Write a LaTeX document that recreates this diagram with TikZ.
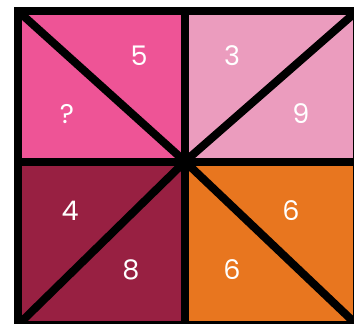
\documentclass[tikz,border=0pt]{standalone}
\usepackage{fontspec}
\setmainfont{Poppins}
\usepackage{xcolor}
\usetikzlibrary{positioning}

\definecolor{pinkhot}{RGB}{238,84,150}
\definecolor{pinklight}{RGB}{235,156,190}
\definecolor{maroon}{RGB}{152,32,66}
\definecolor{orangecell}{RGB}{232,118,31}

\begin{document}
\begin{tikzpicture}[
  x=1pt, y=-1pt,
  cell/.style={fill=#1, draw=none},
  grid/.style={draw=black, line width=8pt, line join=miter},
  num/.style={text=white, font=\fontsize{27}{30}\selectfont, inner sep=0pt},
]
\useasboundingbox (0,0) rectangle (354,324);

%% ---------- Corners and centre ----------------------------------
\coordinate (tl) at (18,11);
\coordinate (tr) at (357,11);
\coordinate (bl) at (18,325);
\coordinate (br) at (357,325);
\coordinate (mid) at (185,161.5);
\coordinate (tm) at (185,11);
\coordinate (bm) at (185,325);
\coordinate (lm) at (18,161.5);
\coordinate (rm) at (357,161.5);

%% ---------- Quadrant fills --------------------------------------
\fill[cell=pinkhot]    (tl) rectangle (mid);
\fill[cell=pinklight]  (tm) rectangle (rm);
\fill[cell=maroon]     (lm) rectangle (bm);
\fill[cell=orangecell] (mid) rectangle (br);

%% ---------- Numbers ---------------------------------------------
\node[num] (n5)  at (139,56)  {5};
\node[num] (n3)  at (232,56)  {3};
\node[num] (nq)  at (67,114)  {?};
\node[num] (n9)  at (301,114) {9};
\node[num] (n4)  at (70,211)  {4};
\node[num] (n6a) at (291,211) {6};
\node[num] (n8)  at (131,270) {8};
\node[num] (n6b) at (232,270) {6};

%% ---------- Lines -----------------------------------------------
\draw[grid] (tl) -- (tr) -- (br) -- (bl) -- cycle;
\draw[grid] (tm) -- (bm);
\draw[grid] (lm) -- (rm);
\draw[grid] (tl) -- (mid);
\draw[grid] (tr) -- (mid);
\draw[grid] (bl) -- (mid);
\draw[grid] (br) -- (mid);
\end{tikzpicture}
\end{document}
